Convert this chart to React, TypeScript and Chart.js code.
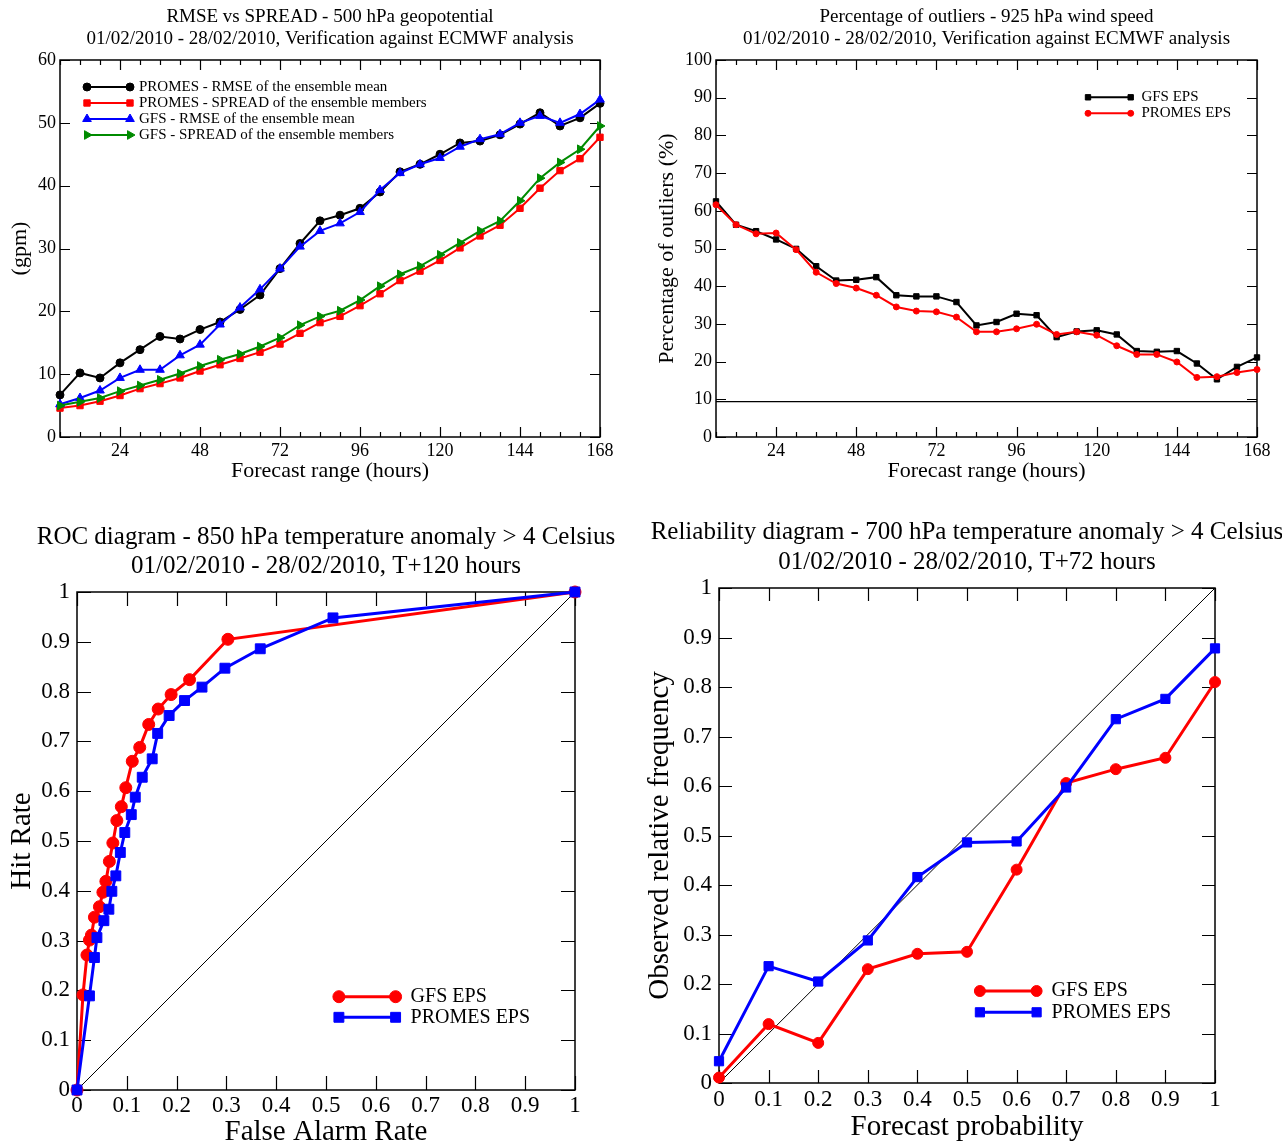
import React, { useEffect, useRef } from 'react';
import { Chart, registerables } from 'chart.js';

Chart.register(...registerables);

const FONT = "'Liberation Serif', 'Times New Roman', Times, serif";

// ---------- Panel 1: RMSE vs SPREAD (500 hPa geopotential) ----------
const hours = [6, 12, 18, 24, 30, 36, 42, 48, 54, 60, 66, 72, 78, 84, 90, 96, 102, 108, 114, 120, 126, 132, 138, 144, 150, 156, 162, 168];
const promesRmse = [6.7, 10.2, 9.4, 11.8, 13.9, 16.0, 15.6, 17.1, 18.3, 20.3, 22.6, 26.8, 30.8, 34.4, 35.3, 36.4, 39.0, 42.2, 43.4, 45.0, 46.8, 47.1, 48.1, 49.8, 51.6, 49.5, 50.8, 53.1];
const promesSpread = [4.6, 5.0, 5.7, 6.6, 7.7, 8.5, 9.4, 10.5, 11.5, 12.5, 13.5, 14.8, 16.5, 18.2, 19.2, 20.9, 22.8, 24.9, 26.4, 28.1, 30.1, 32.0, 33.7, 36.4, 39.6, 42.4, 44.3, 47.7];
const gfsRmse = [5.2, 6.2, 7.4, 9.4, 10.7, 10.7, 13.0, 14.7, 17.9, 20.6, 23.5, 26.8, 30.3, 32.8, 34.0, 35.8, 39.3, 42.0, 43.4, 44.4, 46.2, 47.4, 48.2, 50.0, 51.1, 50.0, 51.4, 53.7];
const gfsSpread = [5.0, 5.6, 6.2, 7.3, 8.2, 9.1, 10.1, 11.3, 12.3, 13.2, 14.4, 15.8, 17.8, 19.2, 20.1, 21.8, 24.0, 25.9, 27.2, 29.0, 30.9, 32.8, 34.4, 37.6, 41.2, 43.7, 45.8, 49.5];
const hourTicks = [24, 48, 72, 96, 120, 144, 168];
const gpmTicks = [0, 10, 20, 30, 40, 50, 60];

// ---------- Panel 2: Percentage of outliers (925 hPa wind speed) ----------
const gfsOutliers = [62.5, 56.3, 54.6, 52.4, 49.9, 45.3, 41.5, 41.7, 42.4, 37.6, 37.3, 37.3, 35.8, 29.6, 30.5, 32.7, 32.3, 26.5, 28.0, 28.3, 27.2, 22.8, 22.6, 22.8, 19.5, 15.3, 18.6, 21.1];
const promesOutliers = [61.6, 56.3, 53.9, 54.1, 49.7, 43.7, 40.7, 39.5, 37.6, 34.5, 33.4, 33.2, 31.8, 27.9, 27.9, 28.7, 29.9, 27.2, 27.9, 27.0, 24.2, 21.9, 21.9, 19.9, 15.8, 16.0, 17.1, 17.9];
const expectedOutliers = 9.4;
const pctTicks = [0, 10, 20, 30, 40, 50, 60, 70, 80, 90, 100];

// ---------- Panel 3: ROC diagram ----------
const rocGfsFar = [0, 0.012, 0.020, 0.025, 0.029, 0.035, 0.045, 0.052, 0.058, 0.065, 0.072, 0.080, 0.089, 0.098, 0.111, 0.126, 0.144, 0.163, 0.189, 0.226, 0.303, 1];
const rocGfsHit = [0, 0.191, 0.271, 0.301, 0.311, 0.347, 0.368, 0.397, 0.419, 0.459, 0.496, 0.541, 0.569, 0.607, 0.660, 0.688, 0.734, 0.765, 0.794, 0.824, 0.905, 1];
const rocPromesFar = [0, 0.025, 0.035, 0.040, 0.054, 0.064, 0.070, 0.078, 0.087, 0.096, 0.109, 0.117, 0.131, 0.151, 0.162, 0.185, 0.216, 0.251, 0.297, 0.368, 0.514, 1];
const rocPromesHit = [0, 0.189, 0.266, 0.306, 0.340, 0.363, 0.399, 0.430, 0.477, 0.517, 0.553, 0.588, 0.628, 0.665, 0.716, 0.752, 0.782, 0.809, 0.847, 0.886, 0.948, 1];
const unitTicks = [0, 0.1, 0.2, 0.3, 0.4, 0.5, 0.6, 0.7, 0.8, 0.9, 1];

// ---------- Panel 4: Reliability diagram ----------
const probBins = [0, 0.1, 0.2, 0.3, 0.4, 0.5, 0.6, 0.7, 0.8, 0.9, 1];
const relGfs = [0.011, 0.119, 0.081, 0.230, 0.261, 0.265, 0.431, 0.606, 0.634, 0.657, 0.810];
const relPromes = [0.044, 0.236, 0.205, 0.288, 0.416, 0.486, 0.488, 0.597, 0.735, 0.776, 0.878];

const diagX = [0, 1];
const diagY = [0, 1];

// ---------- helpers ----------
function pts(xs: number[], ys: number[]) {
  return xs.map((x, i) => ({ x, y: ys[i] }));
}

function series(label: string, xs: number[], ys: number[], color: string, style: string, radius: number, rotation: number, width: number, order: number) {
  return {
    label,
    data: pts(xs, ys),
    borderColor: color,
    backgroundColor: color,
    pointBackgroundColor: color,
    pointBorderColor: color,
    pointBorderWidth: 1,
    pointStyle: style,
    pointRadius: radius,
    pointRotation: rotation,
    borderWidth: width,
    tension: 0,
    fill: false,
    clip: false,
    order,
  };
}

function refLine(xs: number[], ys: number[], width: number) {
  return {
    label: '',
    data: pts(xs, ys),
    borderColor: '#000',
    backgroundColor: '#000',
    borderWidth: width,
    pointRadius: 0,
    tension: 0,
    fill: false,
    clip: false,
    order: 99,
  };
}

function drawMarker(ctx: CanvasRenderingContext2D, style: string, r: number, rot: number, x: number, y: number, color: string) {
  ctx.save();
  ctx.fillStyle = color;
  ctx.strokeStyle = color;
  ctx.lineWidth = 1;
  ctx.beginPath();
  if (style === 'rect') {
    const h = r * Math.SQRT1_2;
    ctx.rect(x - h, y - h, 2 * h, 2 * h);
  } else if (style === 'triangle') {
    let rad = (rot * Math.PI) / 180;
    ctx.moveTo(x + Math.sin(rad) * r, y - Math.cos(rad) * r);
    rad += (2 * Math.PI) / 3;
    ctx.lineTo(x + Math.sin(rad) * r, y - Math.cos(rad) * r);
    rad += (2 * Math.PI) / 3;
    ctx.lineTo(x + Math.sin(rad) * r, y - Math.cos(rad) * r);
    ctx.closePath();
  } else {
    ctx.arc(x, y, r, 0, Math.PI * 2);
  }
  ctx.fill();
  ctx.stroke();
  ctx.restore();
}

const framePlugin = {
  id: 'frame',
  beforeDatasetsDraw(chart: any, _args: any, o: any) {
    const { ctx, chartArea: a, scales } = chart;
    const sx = scales.x;
    const sy = scales.y;
    ctx.save();
    ctx.strokeStyle = '#000';
    ctx.lineWidth = o.tickWidth;
    ctx.beginPath();
    const vx = (vals: number[], len: number) => {
      vals.forEach((v) => {
        const p = Math.round(sx.getPixelForValue(v)) + 0.5;
        ctx.moveTo(p, a.bottom);
        ctx.lineTo(p, a.bottom - len);
        ctx.moveTo(p, a.top);
        ctx.lineTo(p, a.top + len);
      });
    };
    const vy = (vals: number[], len: number) => {
      vals.forEach((v) => {
        const p = Math.round(sy.getPixelForValue(v)) + 0.5;
        ctx.moveTo(a.left, p);
        ctx.lineTo(a.left + len, p);
        ctx.moveTo(a.right, p);
        ctx.lineTo(a.right - len, p);
      });
    };
    vx(o.xMinor || [], o.minorLen);
    vx(o.xMajor || [], o.majorLen);
    vy(o.yMinor || [], o.minorLen);
    vy(o.yMajor || [], o.majorLen);
    ctx.stroke();
    ctx.lineWidth = o.frameWidth;
    ctx.strokeRect(a.left, a.top, a.right - a.left, a.bottom - a.top);
    ctx.restore();
  },
};

const legendPlugin = {
  id: 'boxLegend',
  afterDatasetsDraw(chart: any, _args: any, o: any) {
    const { ctx } = chart;
    ctx.save();
    o.items.forEach((idx: number, row: number) => {
      const ds = chart.data.datasets[idx];
      const yy = o.y + row * o.dy;
      ctx.strokeStyle = ds.borderColor;
      ctx.lineWidth = ds.borderWidth;
      ctx.beginPath();
      ctx.moveTo(o.x1, yy);
      ctx.lineTo(o.x2, yy);
      ctx.stroke();
      drawMarker(ctx, ds.pointStyle, ds.pointRadius, ds.pointRotation || 0, o.x1, yy, ds.borderColor);
      drawMarker(ctx, ds.pointStyle, ds.pointRadius, ds.pointRotation || 0, o.x2, yy, ds.borderColor);
      ctx.fillStyle = '#000';
      ctx.font = `${o.size}px ${FONT}`;
      ctx.textBaseline = 'middle';
      ctx.textAlign = 'left';
      ctx.fillText(ds.label, o.tx, yy);
    });
    ctx.restore();
  },
};

interface AxisSpec {
  min: number;
  max: number;
  ticks: number[];
  size: number; // afterFit width/height
  tickFont: number;
  tickPad: number;
  title: string;
  titleFont: number;
  titlePad: any;
}

function axis(s: AxisSpec) {
  return {
    type: 'linear',
    min: s.min,
    max: s.max,
    afterBuildTicks: (sc: any) => {
      sc.ticks = s.ticks.map((v) => ({ value: v }));
    },
    afterFit: (sc: any) => {
      if (sc.isHorizontal()) sc.height = s.size;
      else sc.width = s.size;
    },
    grid: { display: false, drawTicks: false },
    border: { display: false },
    ticks: {
      color: '#000',
      font: { family: FONT, size: s.tickFont, lineHeight: 1 },
      padding: s.tickPad,
      maxRotation: 0,
      minRotation: 0,
      autoSkip: false,
      callback: (v: any) => String(Math.round(Number(v) * 1000) / 1000),
    },
    title: {
      display: true,
      text: s.title,
      color: '#000',
      font: { family: FONT, size: s.titleFont, lineHeight: 1 },
      padding: s.titlePad,
    },
  };
}

// invisible right-hand spacer axis so that the full-width title is centred over the plot
function spacer(width: number) {
  return {
    type: 'linear',
    position: 'right',
    display: true,
    min: 0,
    max: 1,
    grid: { display: false, drawTicks: false },
    border: { display: false },
    ticks: { display: false },
    title: { display: false },
    afterFit: (sc: any) => {
      sc.width = width;
    },
  };
}

function baseOptions(p: any) {
  return {
    responsive: false,
    animation: false,
    events: [],
    layout: { padding: 0 },
    scales: { x: axis(p.x), y: axis(p.y), yr: spacer(p.rightGap) },
    plugins: {
      legend: { display: false },
      tooltip: { enabled: false },
      title: {
        display: true,
        text: p.title,
        fullSize: true,
        color: '#000',
        font: { family: FONT, size: p.titleSize, weight: 'normal', lineHeight: p.titleLH },
        padding: p.titlePad,
      },
      frame: p.frame,
      boxLegend: p.legend,
    },
  };
}

// ---------- chart configs ----------
const config1 = {
  type: 'line',
  data: {
    datasets: [
      series('PROMES - RMSE of the ensemble mean', hours, promesRmse, '#000000', 'circle', 4, 0, 2, 4),
      series('PROMES - SPREAD of the ensemble members', hours, promesSpread, '#ff0000', 'rect', 4.5, 0, 2, 3),
      series('GFS - RMSE of the ensemble mean', hours, gfsRmse, '#0000ff', 'triangle', 5, 0, 2, 2),
      series('GFS - SPREAD of the ensemble members', hours, gfsSpread, '#008b00', 'triangle', 5, 90, 2, 1),
    ],
  },
  options: baseOptions({
    rightGap: 60,
    x: { min: 6, max: 168, ticks: hourTicks, size: 53, tickFont: 18, tickPad: 5.5, title: 'Forecast range (hours)', titleFont: 22, titlePad: { top: 0, bottom: 8 } },
    y: { min: 0, max: 60, ticks: gpmTicks, size: 60, tickFont: 18, tickPad: 4, title: '(gpm)', titleFont: 22, titlePad: { top: 9, bottom: 0 } },
    title: ['RMSE vs SPREAD - 500 hPa geopotential', '01/02/2010 - 28/02/2010, Verification against ECMWF analysis'],
    titleSize: 19,
    titleLH: 22 / 19,
    titlePad: { top: 6, bottom: 10 },
    frame: { xMinor: hours, xMajor: hourTicks, yMajor: gpmTicks, majorLen: 10, minorLen: 5, tickWidth: 1.2, frameWidth: 1.5 },
    legend: { items: [0, 1, 2, 3], x1: 87, x2: 130, tx: 139, y: 87, dy: 16, size: 15 },
  }),
  plugins: [framePlugin, legendPlugin],
};

const config2 = {
  type: 'line',
  data: {
    datasets: [
      series('GFS EPS', hours, gfsOutliers, '#000000', 'rect', 3.8, 0, 2, 2),
      series('PROMES EPS', hours, promesOutliers, '#ff0000', 'circle', 3, 0, 2, 1),
      refLine([6, 168], [expectedOutliers, expectedOutliers], 1.2),
    ],
  },
  options: baseOptions({
    rightGap: 75,
    x: { min: 6, max: 168, ticks: hourTicks, size: 53, tickFont: 18, tickPad: 5.5, title: 'Forecast range (hours)', titleFont: 22, titlePad: { top: 0, bottom: 8 } },
    y: { min: 0, max: 100, ticks: pctTicks, size: 75, tickFont: 18, tickPad: 4, title: 'Percentage of outliers (%)', titleFont: 22, titlePad: { top: 15, bottom: 0 } },
    title: ['Percentage of outliers - 925 hPa wind speed', '01/02/2010 - 28/02/2010, Verification against ECMWF analysis'],
    titleSize: 19,
    titleLH: 22 / 19,
    titlePad: { top: 6, bottom: 10 },
    frame: { xMinor: hours, xMajor: hourTicks, yMajor: pctTicks, majorLen: 10, minorLen: 5, tickWidth: 1.2, frameWidth: 1.5 },
    legend: { items: [0, 1], x1: 447, x2: 489.7, tx: 500.4, y: 97.3, dy: 16, size: 15 },
  }),
  plugins: [framePlugin, legendPlugin],
};

const config3 = {
  type: 'line',
  data: {
    datasets: [
      series('GFS EPS', rocGfsFar, rocGfsHit, '#ff0000', 'circle', 6, 0, 3, 2),
      series('PROMES EPS', rocPromesFar, rocPromesHit, '#0000ff', 'rect', 7, 0, 3, 1),
      refLine(diagX, diagY, 1),
    ],
  },
  options: baseOptions({
    rightGap: 77,
    x: { min: 0, max: 1, ticks: unitTicks, size: 53, tickFont: 23, tickPad: 4, title: 'False Alarm Rate', titleFont: 29, titlePad: { top: 0, bottom: -3.5 } },
    y: { min: 0, max: 1, ticks: unitTicks, size: 77, tickFont: 23, tickPad: 7, title: 'Hit Rate', titleFont: 29, titlePad: { top: 7.5, bottom: 0 } },
    title: ['ROC diagram - 850 hPa temperature anomaly > 4 Celsius', '01/02/2010 - 28/02/2010, T+120 hours'],
    titleSize: 25,
    titleLH: 29 / 25,
    titlePad: { top: 32.5, bottom: 11.5 },
    frame: { xMajor: unitTicks, yMajor: unitTicks, majorLen: 14, minorLen: 7, tickWidth: 1.2, frameWidth: 1.5 },
    legend: { items: [0, 1], x1: 338.9, x2: 395.6, tx: 410.6, y: 506.7, dy: 20.6, size: 20 },
  }),
  plugins: [framePlugin, legendPlugin],
};

const config4 = {
  type: 'line',
  data: {
    datasets: [
      series('GFS EPS', probBins, relGfs, '#ff0000', 'circle', 5.5, 0, 3, 2),
      series('PROMES EPS', probBins, relPromes, '#0000ff', 'rect', 6.5, 0, 3, 1),
      refLine(diagX, diagY, 1),
    ],
  },
  options: baseOptions({
    rightGap: 78,
    x: { min: 0, max: 1, ticks: unitTicks, size: 60, tickFont: 23, tickPad: 5, title: 'Forecast probability', titleFont: 29, titlePad: { top: 0, bottom: 1 } },
    y: { min: 0, max: 1, ticks: unitTicks, size: 78, tickFont: 23, tickPad: 7, title: 'Observed relative frequency', titleFont: 29, titlePad: { top: 4.5, bottom: 0 } },
    title: ['Reliability diagram - 700 hPa temperature anomaly > 4 Celsius', '01/02/2010 - 28/02/2010, T+72 hours'],
    titleSize: 25,
    titleLH: 30 / 25,
    titlePad: { top: 27, bottom: 11 },
    frame: { xMajor: unitTicks, yMajor: unitTicks, majorLen: 13, minorLen: 7, tickWidth: 1.2, frameWidth: 1.5 },
    legend: { items: [0, 1], x1: 338.9, x2: 395.6, tx: 410.6, y: 501, dy: 21.3, size: 20 },
  }),
  plugins: [framePlugin, legendPlugin],
};

function Panel({ config, left, top, width, height }: { config: any; left: number; top: number; width: number; height: number }) {
  const ref = useRef<HTMLCanvasElement>(null);
  useEffect(() => {
    const chart = new Chart(ref.current as HTMLCanvasElement, config);
    return () => chart.destroy();
  }, [config]);
  return (
    <canvas
      ref={ref}
      width={width}
      height={height}
      style={{ position: 'absolute', left, top, width, height, display: 'block' }}
    />
  );
}

export default function App() {
  return (
    <div style={{ position: 'absolute', left: 0, top: 0, width: 1282, height: 1143, background: '#fff', overflow: 'hidden' }}>
      <Panel config={config1} left={0} top={0} width={660} height={490} />
      <Panel config={config2} left={641} top={0} width={691} height={490} />
      <Panel config={config3} left={0} top={490} width={652} height={653} />
      <Panel config={config4} left={641} top={490} width={652} height={653} />
    </div>
  );
}
